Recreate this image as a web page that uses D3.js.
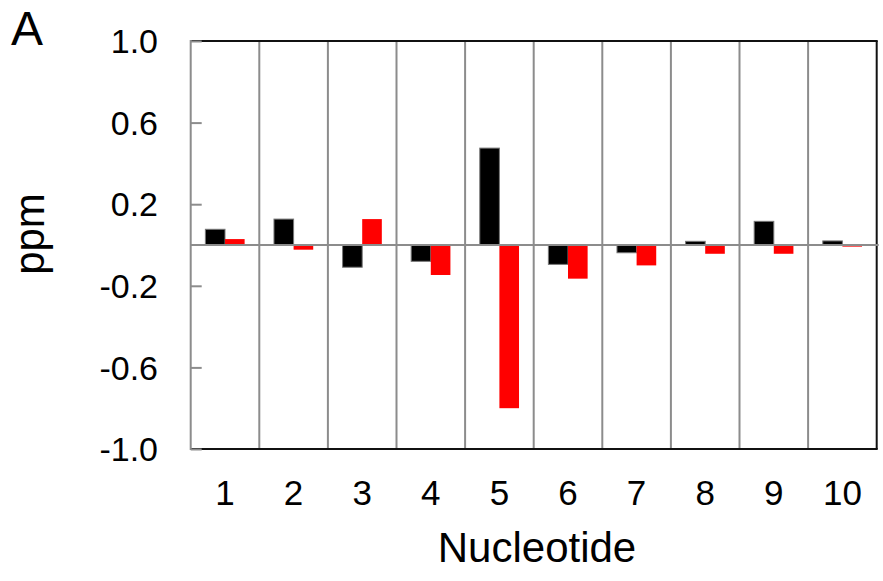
<!DOCTYPE html>
<html><head><meta charset="utf-8">
<script src="https://cdn.jsdelivr.net/npm/d3@7"></script>
<style>body{margin:0;background:#fff}svg{display:block}text{font-family:"Liberation Sans",Arial,sans-serif;fill:#000}</style>
</head><body>
<svg id="c" width="883" height="581"></svg>
<script>
const categories = ["1","2","3","4","5","6","7","8","9","10"];
const seriesNames = ["black","red"];
const blackValues = [0.077, 0.127, -0.109, -0.080, 0.475, -0.095, -0.038, 0.018, 0.116, 0.020];
const redValues = [0.029, -0.023, 0.127, -0.147, -0.800, -0.165, -0.100, -0.043, -0.043, -0.008];
const yTicks = [1.0, 0.6, 0.2, -0.2, -0.6, -1.0];
const yTickLabels = ["1.0", "0.6", "0.2", "-0.2", "-0.6", "-1.0"];
const colors = {black:"#000000", red:"#ff0000"};

const svg = d3.select("#c");
const L = 190.7, R = 876.7, T = 41, B = 449;
const gray = "#8c8c8c";

const x = d3.scaleBand().domain(categories).range([L, R]).padding(0);
const y = d3.scaleLinear().domain([-1, 1]).range([B, T]);
const gw = x.bandwidth() * 0.572;
const x1 = d3.scaleBand().domain(seriesNames).range([-gw/2, gw/2]).padding(0);

// vertical grid lines
svg.append("g").selectAll("line").data(categories.slice(1)).join("line")
  .attr("x1", d => x(d)).attr("x2", d => x(d))
  .attr("y1", T).attr("y2", B)
  .attr("stroke", gray).attr("stroke-width", 2);

// top/bottom/right border
svg.append("line").attr("x1", L).attr("x2", R+1).attr("y1", T).attr("y2", T).attr("stroke", "#111").attr("stroke-width", 2);
svg.append("line").attr("x1", L).attr("x2", R+1).attr("y1", B).attr("y2", B).attr("stroke", "#111").attr("stroke-width", 2);
svg.append("line").attr("x1", R).attr("x2", R).attr("y1", T).attr("y2", B).attr("stroke", "#111").attr("stroke-width", 2);

// bars
const data = categories.map((c, i) => ({c, vals: [{s:"black", v: blackValues[i]}, {s:"red", v: redValues[i]}]}));
const g = svg.append("g").selectAll("g").data(data).join("g")
  .attr("transform", d => `translate(${x(d.c) + x.bandwidth()/2},0)`);
g.selectAll("rect").data(d => d.vals).join("rect")
  .attr("x", d => x1(d.s)).attr("width", x1.bandwidth())
  .attr("y", d => y(Math.max(0, d.v))).attr("height", d => Math.abs(y(d.v) - y(0)))
  .attr("fill", d => colors[d.s])
  .attr("stroke", d => d.s === "black" ? "#777" : "none").attr("stroke-width", 1);

// zero line
svg.append("line").attr("x1", L).attr("x2", R+2).attr("y1", y(0)).attr("y2", y(0)).attr("stroke", gray).attr("stroke-width", 2);

// y axis
const yAxis = d3.axisRight(y).tickValues(yTicks).tickSize(11).tickFormat("");
const ya = svg.append("g").attr("transform", `translate(${L},0)`).call(yAxis);
ya.select(".domain").remove();
ya.selectAll(".tick line").attr("stroke", gray).attr("stroke-width", 2);
svg.append("line").attr("x1", L).attr("x2", L).attr("y1", T-1).attr("y2", B+1).attr("stroke", gray).attr("stroke-width", 2);

// y tick labels
svg.append("g").selectAll("text").data(yTicks).join("text")
  .attr("x", 158).attr("y", d => y(d) + 0.358*34)
  .attr("text-anchor", "end").attr("font-size", 34)
  .text((d, i) => yTickLabels[i]);

// x tick labels
svg.append("g").selectAll("text").data(categories).join("text")
  .attr("x", d => x(d) + x.bandwidth()/2).attr("y", 505)
  .attr("text-anchor", "middle").attr("font-size", 35)
  .text(d => d);

// axis titles
svg.append("text").attr("x", 537).attr("y", 561.5).attr("text-anchor", "middle").attr("font-size", 42).text("Nucleotide");
svg.append("text").attr("transform", "translate(44,234) rotate(-90)").attr("text-anchor", "middle").attr("font-size", 42).text("ppm");
svg.append("text").attr("x", 11).attr("y", 45).attr("font-size", 48).text("A");
</script>
</body></html>
